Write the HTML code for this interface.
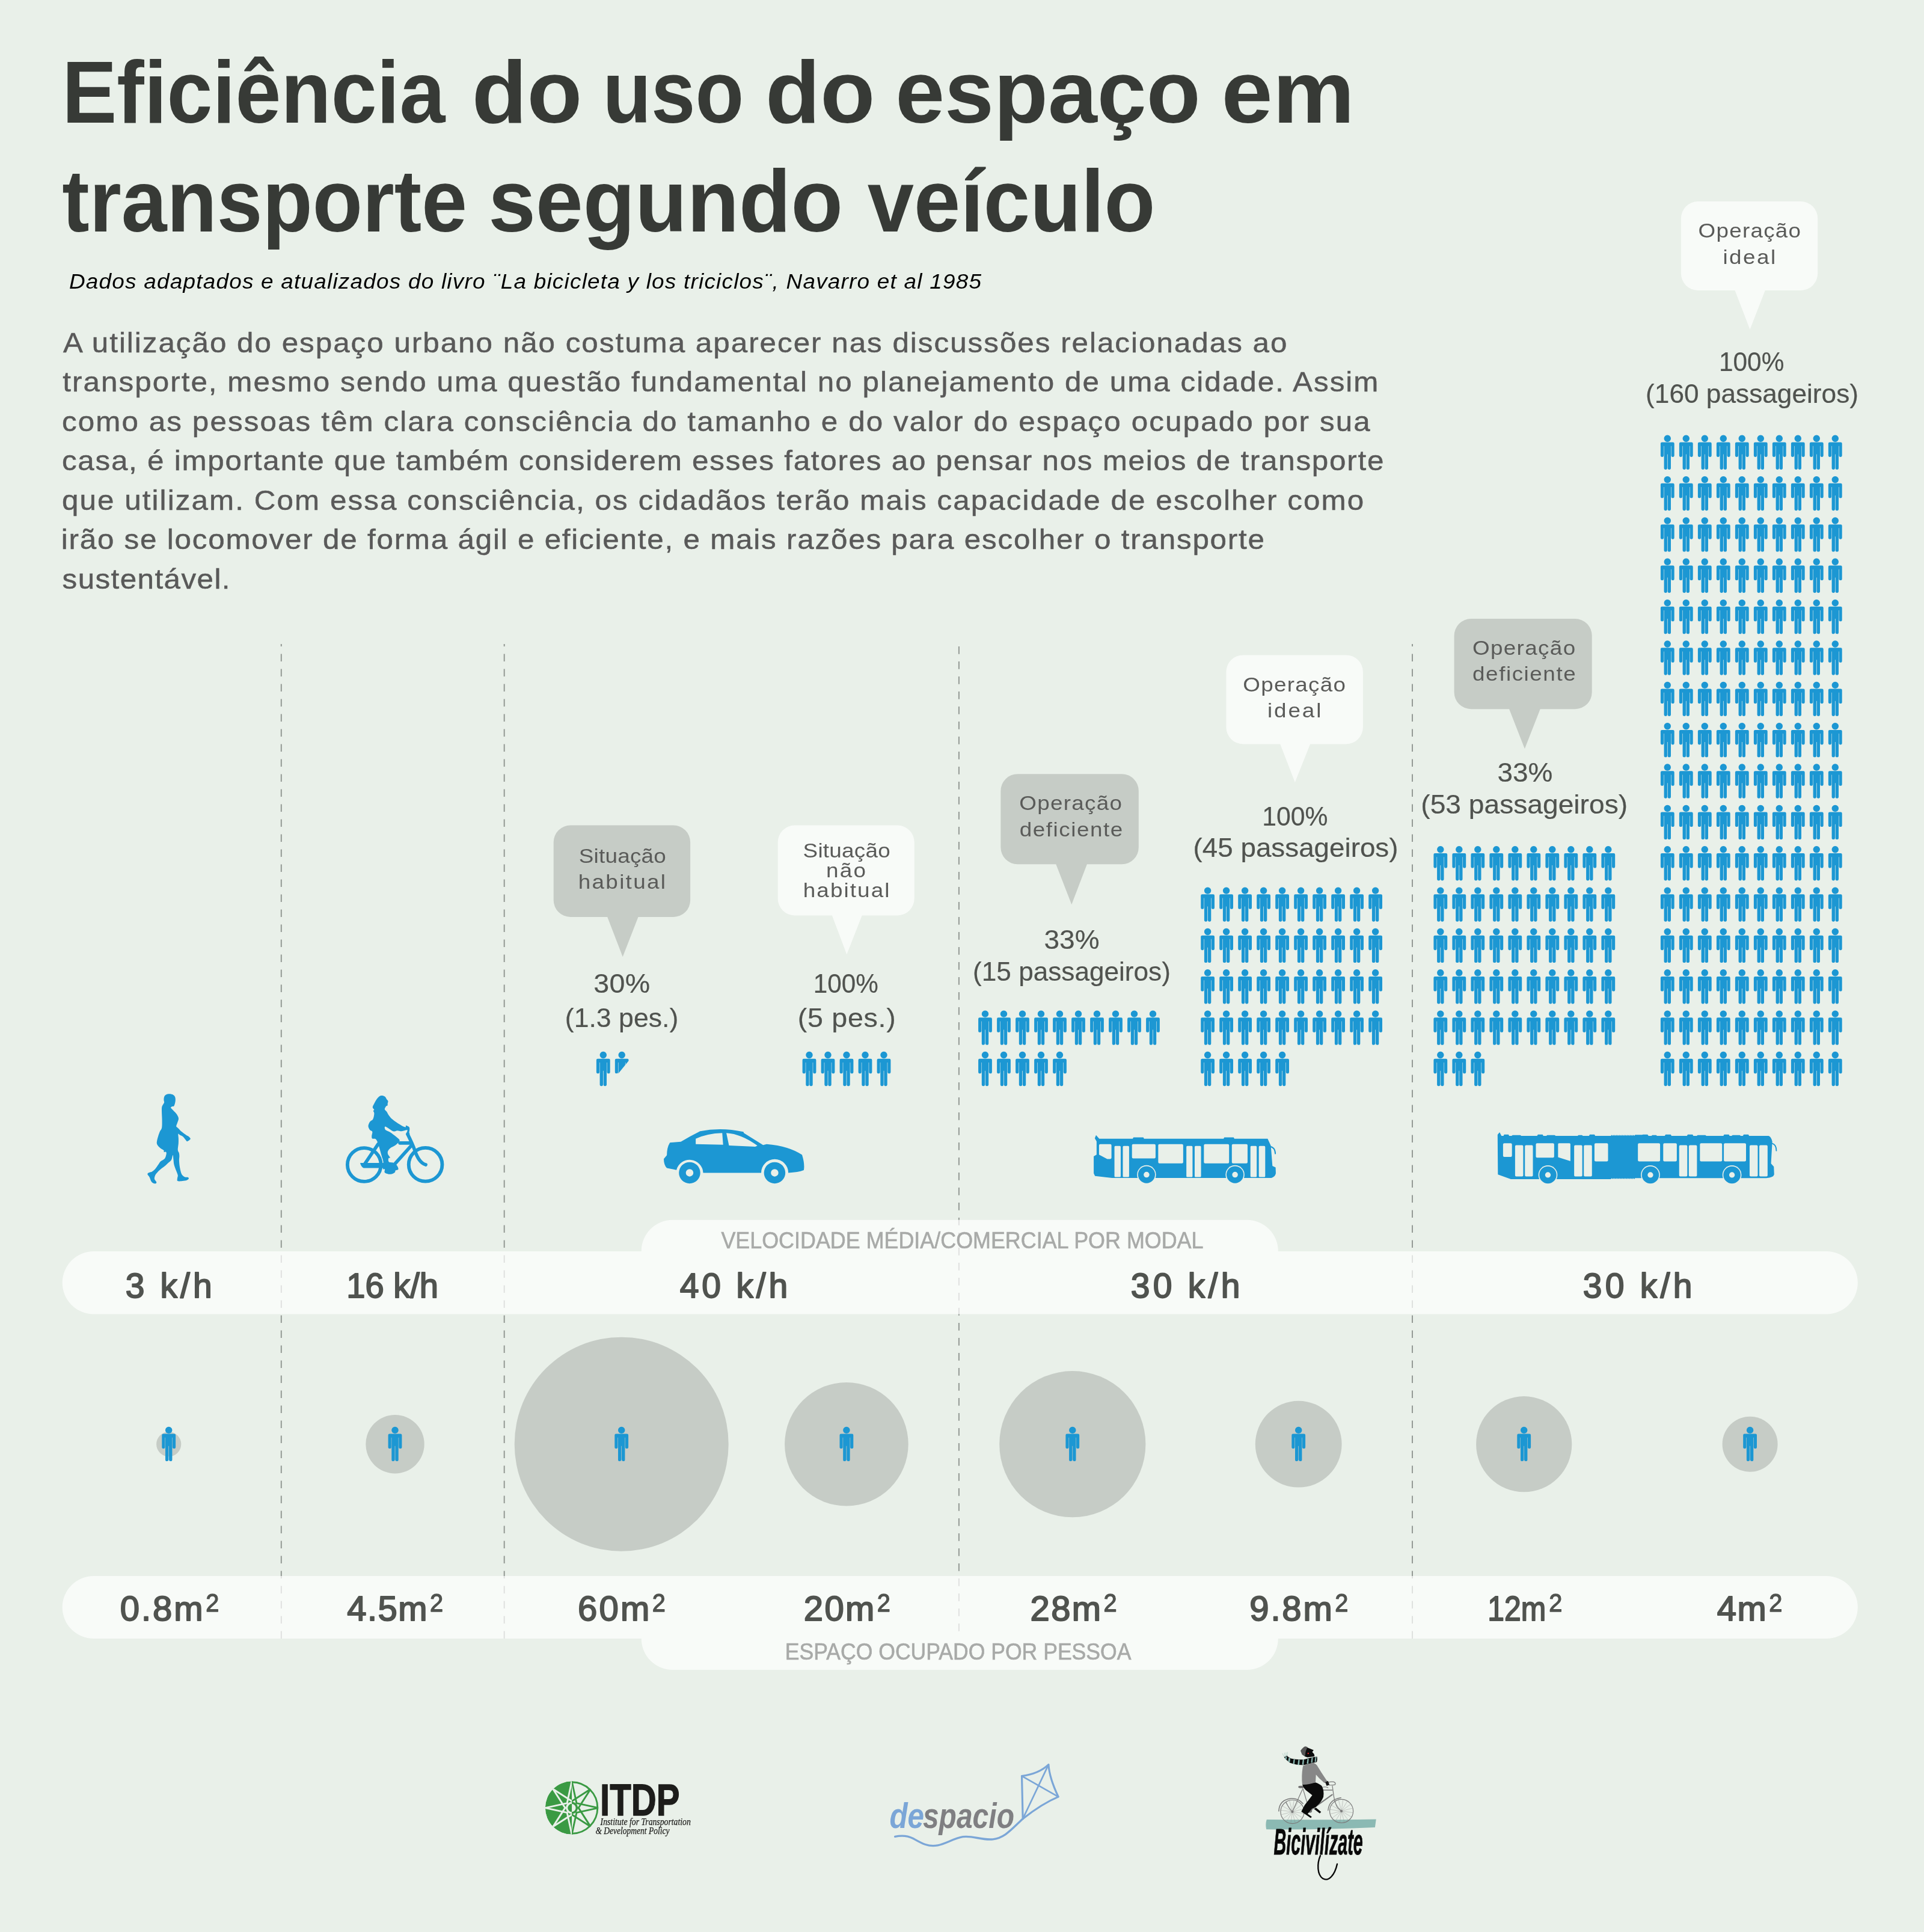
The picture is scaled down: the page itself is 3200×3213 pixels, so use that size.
<!DOCTYPE html>
<html lang="pt"><head><meta charset="utf-8"><title>Eficiência do uso do espaço em transporte segundo veículo</title>
<style>html,body{margin:0;padding:0;background:#e9f0e9;}svg{display:block;}text{white-space:pre;}</style></head>
<body><svg width="3200" height="3213" viewBox="0 0 3200 3213">
<rect width="3200" height="3213" fill="#e9f0e9"/>
<g style="opacity:.999">
<defs><path id="p" d="M0 0A5.7 5.7 0 1 1 -0.01 0ZM-9.2 11.9H9.2A2.2 2.2 0 0 1 11.4 14.100000000000001V33.824999999999996A2.575 2.575 0 0 1 6.25 33.824999999999996V18.1H5.7V54.699999999999996A2.65 2.65 0 0 1 0.35 54.65V32H-0.35V54.65A2.6 2.6 0 0 1 -5.7 54.699999999999996V18.1H-6.25V33.824999999999996A2.575 2.575 0 0 1 -11.4 33.824999999999996V14.100000000000001A2.2 2.2 0 0 1 -9.2 11.9Z" fill="#1c97d3"/><clipPath id="cut"><path d="M-13 -1H13V13.5L-6 36.6H-13Z"/></clipPath></defs>
<text y="203.9" font-family='"Liberation Sans", sans-serif' font-size="146.5" fill="#373a36" font-weight="bold"><tspan x="103.2" textLength="637.2" lengthAdjust="spacingAndGlyphs">Eficiência</tspan> <tspan x="784.8" textLength="183.6" lengthAdjust="spacingAndGlyphs">do</tspan> <tspan x="1002.4" textLength="234.7" lengthAdjust="spacingAndGlyphs">uso</tspan> <tspan x="1273.1" textLength="182.2" lengthAdjust="spacingAndGlyphs">do</tspan> <tspan x="1489.2" textLength="507.4" lengthAdjust="spacingAndGlyphs">espaço</tspan> <tspan x="2031.6" textLength="221.4" lengthAdjust="spacingAndGlyphs">em</tspan></text>
<text y="384.8" font-family='"Liberation Sans", sans-serif' font-size="146.5" fill="#373a36" font-weight="bold"><tspan x="103.3" textLength="673.7" lengthAdjust="spacingAndGlyphs">transporte</tspan> <tspan x="812.3" textLength="589.7" lengthAdjust="spacingAndGlyphs">segundo</tspan> <tspan x="1442.7" textLength="478.8" lengthAdjust="spacingAndGlyphs">veículo</tspan></text>
<text x="114.9" y="479.8" font-family='"Liberation Sans", sans-serif' font-size="35.5" fill="#000" font-style="italic" letter-spacing="1.17" textLength="1518.3" lengthAdjust="spacingAndGlyphs">Dados adaptados e atualizados do livro ¨La bicicleta y los triciclos¨, Navarro et al 1985</text>
<text x="104.9" y="585.9" font-family='"Liberation Sans", sans-serif' font-size="47" fill="#595959" letter-spacing="1.89" textLength="2037.5" lengthAdjust="spacingAndGlyphs" stroke="#595959" stroke-width="0.5">A utilização do espaço urbano não costuma aparecer nas discussões relacionadas ao</text>
<text x="104.3" y="651.4" font-family='"Liberation Sans", sans-serif' font-size="47" fill="#595959" letter-spacing="1.94" textLength="2190.2" lengthAdjust="spacingAndGlyphs" stroke="#595959" stroke-width="0.5">transporte, mesmo sendo uma questão fundamental no planejamento de uma cidade. Assim</text>
<text x="102.9" y="716.9" font-family='"Liberation Sans", sans-serif' font-size="47" fill="#595959" letter-spacing="1.99" textLength="2177.9" lengthAdjust="spacingAndGlyphs" stroke="#595959" stroke-width="0.5">como as pessoas têm clara consciência do tamanho e do valor do espaço ocupado por sua</text>
<text x="102.9" y="782.4" font-family='"Liberation Sans", sans-serif' font-size="47" fill="#595959" letter-spacing="1.67" textLength="2200.2" lengthAdjust="spacingAndGlyphs" stroke="#595959" stroke-width="0.5">casa, é importante que também considerem esses fatores ao pensar nos meios de transporte</text>
<text x="102.9" y="847.9" font-family='"Liberation Sans", sans-serif' font-size="47" fill="#595959" letter-spacing="1.98" textLength="2167.4" lengthAdjust="spacingAndGlyphs" stroke="#595959" stroke-width="0.5">que utilizam. Com essa consciência, os cidadãos terão mais capacidade de escolher como</text>
<text x="101.7" y="913.4" font-family='"Liberation Sans", sans-serif' font-size="47" fill="#595959" letter-spacing="1.70" textLength="2003.1" lengthAdjust="spacingAndGlyphs" stroke="#595959" stroke-width="0.5">irão se locomover de forma ágil e eficiente, e mais razões para escolher o transporte</text>
<text x="103.6" y="978.9" font-family='"Liberation Sans", sans-serif' font-size="47" fill="#595959" letter-spacing="1.34" textLength="280.3" lengthAdjust="spacingAndGlyphs" stroke="#595959" stroke-width="0.5">sustentável.</text>
<line x1="467.8" y1="1071" x2="467.8" y2="2725" stroke="#949a95" stroke-width="2" stroke-dasharray="12.7 12.3" stroke-dashoffset="8.6"/>
<line x1="838.7" y1="1071" x2="838.7" y2="2725" stroke="#949a95" stroke-width="2" stroke-dasharray="12.7 12.3" stroke-dashoffset="8.6"/>
<line x1="2349.0" y1="1071" x2="2349.0" y2="2725" stroke="#949a95" stroke-width="2" stroke-dasharray="12.7 12.3" stroke-dashoffset="8.6"/>
<line x1="1594.9" y1="1075.1" x2="1594.9" y2="2712.9" stroke="#949a95" stroke-width="2" stroke-dasharray="12.7 12.3"/>
<path d="M155.95 2081H1066.7V2080.7A52 52 0 0 1 1118.7 2028.7H2073.8A52 52 0 0 1 2125.8 2080.7V2081H3037.55A52.25 52.25 0 0 1 3037.55 2185.5H155.95A52.25 52.25 0 0 1 155.95 2081Z" fill="#fff" fill-opacity="0.70"/>
<path d="M155.7 2621H3037.8A52.0 52.0 0 0 1 3037.8 2725H2125.8V2725A52 52 0 0 1 2073.8 2777H1118.7A52 52 0 0 1 1066.7 2725V2725H155.7A52.0 52.0 0 0 1 155.7 2621Z" fill="#fff" fill-opacity="0.70"/>
<text x="1199.4" y="2075.5" font-family='"Liberation Sans", sans-serif' font-size="39" fill="#a8aaa8" letter-spacing="0.00" textLength="802.1" lengthAdjust="spacingAndGlyphs" stroke="#a8aaa8" stroke-width="0.7">VELOCIDADE MÉDIA/COMERCIAL POR MODAL</text>
<text x="1305.8" y="2759.6" font-family='"Liberation Sans", sans-serif' font-size="39" fill="#a8aaa8" textLength="575.6" lengthAdjust="spacingAndGlyphs" stroke="#a8aaa8" stroke-width="0.7">ESPAÇO OCUPADO POR PESSOA</text>
<text x="208.8" y="2158.0" font-family='"Liberation Sans", sans-serif' font-size="57" fill="#50534f" letter-spacing="5.07" textLength="148.9" lengthAdjust="spacingAndGlyphs" stroke="#50534f" stroke-width="2" stroke-linejoin="round">3 k/h</text>
<text x="576.2" y="2158.0" font-family='"Liberation Sans", sans-serif' font-size="57" fill="#50534f" textLength="152.9" lengthAdjust="spacingAndGlyphs" stroke="#50534f" stroke-width="2" stroke-linejoin="round">16 k/h</text>
<text x="1130.7" y="2158.0" font-family='"Liberation Sans", sans-serif' font-size="57" fill="#50534f" letter-spacing="4.85" textLength="184.4" lengthAdjust="spacingAndGlyphs" stroke="#50534f" stroke-width="2" stroke-linejoin="round">40 k/h</text>
<text x="1880.8" y="2158.0" font-family='"Liberation Sans", sans-serif' font-size="57" fill="#50534f" letter-spacing="5.26" textLength="186.8" lengthAdjust="spacingAndGlyphs" stroke="#50534f" stroke-width="2" stroke-linejoin="round">30 k/h</text>
<text x="2632.8" y="2158.0" font-family='"Liberation Sans", sans-serif' font-size="57" fill="#50534f" letter-spacing="5.26" textLength="186.8" lengthAdjust="spacingAndGlyphs" stroke="#50534f" stroke-width="2" stroke-linejoin="round">30 k/h</text>
<text x="199.7" y="2695.0" font-family='"Liberation Sans", sans-serif' font-size="58" fill="#50534f" letter-spacing="3.02" textLength="141.0" lengthAdjust="spacingAndGlyphs" stroke="#50534f" stroke-width="2" stroke-linejoin="round">0.8m</text>
<text x="342.2" y="2679.8" font-family='"Liberation Sans", sans-serif' font-size="43" fill="#50534f" textLength="22.1" lengthAdjust="spacingAndGlyphs" stroke="#50534f" stroke-width="1.4" stroke-linejoin="round">2</text>
<text x="577.2" y="2695.0" font-family='"Liberation Sans", sans-serif' font-size="58" fill="#50534f" letter-spacing="1.47" textLength="134.8" lengthAdjust="spacingAndGlyphs" stroke="#50534f" stroke-width="2" stroke-linejoin="round">4.5m</text>
<text x="715.0" y="2679.8" font-family='"Liberation Sans", sans-serif' font-size="43" fill="#50534f" textLength="22.1" lengthAdjust="spacingAndGlyphs" stroke="#50534f" stroke-width="1.4" stroke-linejoin="round">2</text>
<text x="961.1" y="2695.0" font-family='"Liberation Sans", sans-serif' font-size="58" fill="#50534f" letter-spacing="3.17" textLength="122.3" lengthAdjust="spacingAndGlyphs" stroke="#50534f" stroke-width="2" stroke-linejoin="round">60m</text>
<text x="1084.7" y="2679.8" font-family='"Liberation Sans", sans-serif' font-size="43" fill="#50534f" textLength="22.1" lengthAdjust="spacingAndGlyphs" stroke="#50534f" stroke-width="1.4" stroke-linejoin="round">2</text>
<text x="1336.8" y="2695.0" font-family='"Liberation Sans", sans-serif' font-size="58" fill="#50534f" letter-spacing="2.36" textLength="119.9" lengthAdjust="spacingAndGlyphs" stroke="#50534f" stroke-width="2" stroke-linejoin="round">20m</text>
<text x="1458.8" y="2679.8" font-family='"Liberation Sans", sans-serif' font-size="43" fill="#50534f" textLength="22.1" lengthAdjust="spacingAndGlyphs" stroke="#50534f" stroke-width="1.4" stroke-linejoin="round">2</text>
<text x="1713.5" y="2695.0" font-family='"Liberation Sans", sans-serif' font-size="58" fill="#50534f" letter-spacing="2.41" textLength="120.0" lengthAdjust="spacingAndGlyphs" stroke="#50534f" stroke-width="2" stroke-linejoin="round">28m</text>
<text x="1835.6" y="2679.8" font-family='"Liberation Sans", sans-serif' font-size="43" fill="#50534f" textLength="22.1" lengthAdjust="spacingAndGlyphs" stroke="#50534f" stroke-width="1.4" stroke-linejoin="round">2</text>
<text x="2078.3" y="2695.0" font-family='"Liberation Sans", sans-serif' font-size="58" fill="#50534f" letter-spacing="2.83" textLength="140.3" lengthAdjust="spacingAndGlyphs" stroke="#50534f" stroke-width="2" stroke-linejoin="round">9.8m</text>
<text x="2220.2" y="2679.8" font-family='"Liberation Sans", sans-serif' font-size="43" fill="#50534f" textLength="22.1" lengthAdjust="spacingAndGlyphs" stroke="#50534f" stroke-width="1.4" stroke-linejoin="round">2</text>
<text x="2474.2" y="2695.0" font-family='"Liberation Sans", sans-serif' font-size="58" fill="#50534f" textLength="97.0" lengthAdjust="spacingAndGlyphs" stroke="#50534f" stroke-width="2" stroke-linejoin="round">12m</text>
<text x="2576.2" y="2679.8" font-family='"Liberation Sans", sans-serif' font-size="43" fill="#50534f" textLength="22.1" lengthAdjust="spacingAndGlyphs" stroke="#50534f" stroke-width="1.4" stroke-linejoin="round">2</text>
<text x="2855.7" y="2695.0" font-family='"Liberation Sans", sans-serif' font-size="58" fill="#50534f" letter-spacing="1.48" textLength="83.5" lengthAdjust="spacingAndGlyphs" stroke="#50534f" stroke-width="2" stroke-linejoin="round">4m</text>
<text x="2942.2" y="2679.8" font-family='"Liberation Sans", sans-serif' font-size="43" fill="#50534f" textLength="22.1" lengthAdjust="spacingAndGlyphs" stroke="#50534f" stroke-width="1.4" stroke-linejoin="round">2</text>
<circle cx="280.7" cy="2401.7" r="20.6" fill="#c6ccc6"/>
<use href="#p" x="280.7" y="2372.7"/>
<circle cx="657" cy="2401.7" r="48.7" fill="#c6ccc6"/>
<use href="#p" x="657" y="2372.7"/>
<circle cx="1033.7" cy="2401.7" r="178.0" fill="#c6ccc6"/>
<use href="#p" x="1033.7" y="2372.7"/>
<circle cx="1407.9" cy="2401.7" r="102.8" fill="#c6ccc6"/>
<use href="#p" x="1407.9" y="2372.7"/>
<circle cx="1783.8" cy="2401.7" r="121.6" fill="#c6ccc6"/>
<use href="#p" x="1783.8" y="2372.7"/>
<circle cx="2159.7" cy="2401.7" r="71.9" fill="#c6ccc6"/>
<use href="#p" x="2159.7" y="2372.7"/>
<circle cx="2534.7" cy="2401.7" r="79.6" fill="#c6ccc6"/>
<use href="#p" x="2534.7" y="2372.7"/>
<circle cx="2910.6" cy="2401.7" r="46.0" fill="#c6ccc6"/>
<use href="#p" x="2910.6" y="2372.7"/>
<path d="M948.7 1372.6H1120.1A28 28 0 0 1 1148.1 1400.6V1497A28 28 0 0 1 1120.1 1525H1061.5L1035.7 1591.2L1010.2 1525H948.7A28 28 0 0 1 920.7 1497V1400.6A28 28 0 0 1 948.7 1372.6Z" fill="#c6ccc6"/>
<text x="962.7" y="1434.8" font-family='"Liberation Sans", sans-serif' font-size="33.5" fill="#5a5b59" letter-spacing="0.22" textLength="145.4" lengthAdjust="spacingAndGlyphs">Situação</text>
<text x="961.8" y="1478.4" font-family='"Liberation Sans", sans-serif' font-size="33.5" fill="#5a5b59" letter-spacing="2.08" textLength="147.4" lengthAdjust="spacingAndGlyphs">habitual</text>
<path d="M1321.7 1372.6H1492.7A28 28 0 0 1 1520.7 1400.6V1494.4A28 28 0 0 1 1492.7 1522.4H1433.7L1408.3 1587.2L1383.9 1522.4H1321.7A28 28 0 0 1 1293.7 1494.4V1400.6A28 28 0 0 1 1321.7 1372.6Z" fill="#fff" fill-opacity="0.7"/>
<text x="1335.6" y="1426.4" font-family='"Liberation Sans", sans-serif' font-size="33.5" fill="#5a5b59" letter-spacing="0.22" textLength="145.4" lengthAdjust="spacingAndGlyphs">Situação</text>
<text x="1373.9" y="1459.1" font-family='"Liberation Sans", sans-serif' font-size="33.5" fill="#5a5b59" letter-spacing="2.14" textLength="68.6" lengthAdjust="spacingAndGlyphs">não</text>
<text x="1335.8" y="1491.9" font-family='"Liberation Sans", sans-serif' font-size="33.5" fill="#5a5b59" letter-spacing="1.89" textLength="145.7" lengthAdjust="spacingAndGlyphs">habitual</text>
<path d="M1692.4 1287.2H1865.8A28 28 0 0 1 1893.8 1315.2V1409.3A28 28 0 0 1 1865.8 1437.3H1807.9L1782.3 1504.3L1756.3 1437.3H1692.4A28 28 0 0 1 1664.4 1409.3V1315.2A28 28 0 0 1 1692.4 1287.2Z" fill="#c6ccc6"/>
<text x="1695.2" y="1346.7" font-family='"Liberation Sans", sans-serif' font-size="33.5" fill="#5a5b59" letter-spacing="1.16" textLength="172.1" lengthAdjust="spacingAndGlyphs">Operação</text>
<text x="1695.8" y="1391.0" font-family='"Liberation Sans", sans-serif' font-size="33.5" fill="#5a5b59" letter-spacing="1.38" textLength="172.9" lengthAdjust="spacingAndGlyphs">deficiente</text>
<path d="M2067.4 1089.4H2238.9A28 28 0 0 1 2266.9 1117.4V1209.4A28 28 0 0 1 2238.9 1237.4H2179.1L2153.8 1301L2129.2 1237.4H2067.4A28 28 0 0 1 2039.4 1209.4V1117.4A28 28 0 0 1 2067.4 1089.4Z" fill="#fff" fill-opacity="0.7"/>
<text x="2067.2" y="1149.7" font-family='"Liberation Sans", sans-serif' font-size="33.5" fill="#5a5b59" letter-spacing="1.18" textLength="172.2" lengthAdjust="spacingAndGlyphs">Operação</text>
<text x="2108.0" y="1193.3" font-family='"Liberation Sans", sans-serif' font-size="33.5" fill="#5a5b59" letter-spacing="2.61" textLength="92.2" lengthAdjust="spacingAndGlyphs">ideal</text>
<path d="M2446.6 1029.1H2619.7A28 28 0 0 1 2647.7 1057.1V1151.2A28 28 0 0 1 2619.7 1179.2H2561.7L2535.9 1245.3L2510.1 1179.2H2446.6A28 28 0 0 1 2418.6 1151.2V1057.1A28 28 0 0 1 2446.6 1029.1Z" fill="#c6ccc6"/>
<text x="2448.9" y="1088.6" font-family='"Liberation Sans", sans-serif' font-size="33.5" fill="#5a5b59" letter-spacing="1.23" textLength="172.6" lengthAdjust="spacingAndGlyphs">Operação</text>
<text x="2449.1" y="1132.2" font-family='"Liberation Sans", sans-serif' font-size="33.5" fill="#5a5b59" letter-spacing="1.40" textLength="173.1" lengthAdjust="spacingAndGlyphs">deficiente</text>
<path d="M2823.9 335.1H2995.2A28 28 0 0 1 3023.2 363.1V454.9A28 28 0 0 1 2995.2 482.9H2935.8L2910.5 547.9L2885.5 482.9H2823.9A28 28 0 0 1 2795.9 454.9V363.1A28 28 0 0 1 2823.9 335.1Z" fill="#fff" fill-opacity="0.7"/>
<text x="2824.6" y="394.7" font-family='"Liberation Sans", sans-serif' font-size="33.5" fill="#5a5b59" letter-spacing="1.12" textLength="171.7" lengthAdjust="spacingAndGlyphs">Operação</text>
<text x="2865.4" y="438.9" font-family='"Liberation Sans", sans-serif' font-size="33.5" fill="#5a5b59" letter-spacing="2.24" textLength="90.2" lengthAdjust="spacingAndGlyphs">ideal</text>
<text x="987.3" y="1650.5" font-family='"Liberation Sans", sans-serif' font-size="44" fill="#50534f" letter-spacing="0.33" textLength="94.4" lengthAdjust="spacingAndGlyphs" stroke="#50534f" stroke-width="0.2">30%</text>
<text x="939.8" y="1707.6" font-family='"Liberation Sans", sans-serif' font-size="44" fill="#50534f" textLength="188.5" lengthAdjust="spacingAndGlyphs" stroke="#50534f" stroke-width="0.2">(1.3 pes.)</text>
<text x="1352.7" y="1650.5" font-family='"Liberation Sans", sans-serif' font-size="44" fill="#50534f" textLength="108.0" lengthAdjust="spacingAndGlyphs" stroke="#50534f" stroke-width="0.2">100%</text>
<text x="1326.8" y="1707.6" font-family='"Liberation Sans", sans-serif' font-size="44" fill="#50534f" letter-spacing="0.66" textLength="163.7" lengthAdjust="spacingAndGlyphs" stroke="#50534f" stroke-width="0.2">(5 pes.)</text>
<text x="1736.5" y="1578.1" font-family='"Liberation Sans", sans-serif' font-size="44" fill="#50534f" textLength="92.1" lengthAdjust="spacingAndGlyphs" stroke="#50534f" stroke-width="0.2">33%</text>
<text x="1618.1" y="1631.1" font-family='"Liberation Sans", sans-serif' font-size="44" fill="#50534f" textLength="328.8" lengthAdjust="spacingAndGlyphs" stroke="#50534f" stroke-width="0.2">(15 passageiros)</text>
<text x="2099.3" y="1372.6" font-family='"Liberation Sans", sans-serif' font-size="44" fill="#50534f" textLength="109.2" lengthAdjust="spacingAndGlyphs" stroke="#50534f" stroke-width="0.2">100%</text>
<text x="1984.6" y="1425.0" font-family='"Liberation Sans", sans-serif' font-size="44" fill="#50534f" textLength="340.9" lengthAdjust="spacingAndGlyphs" stroke="#50534f" stroke-width="0.2">(45 passageiros)</text>
<text x="2490.4" y="1300.2" font-family='"Liberation Sans", sans-serif' font-size="44" fill="#50534f" textLength="92.0" lengthAdjust="spacingAndGlyphs" stroke="#50534f" stroke-width="0.2">33%</text>
<text x="2363.3" y="1352.6" font-family='"Liberation Sans", sans-serif' font-size="44" fill="#50534f" textLength="343.8" lengthAdjust="spacingAndGlyphs" stroke="#50534f" stroke-width="0.2">(53 passageiros)</text>
<text x="2858.9" y="617.4" font-family='"Liberation Sans", sans-serif' font-size="44" fill="#50534f" textLength="108.5" lengthAdjust="spacingAndGlyphs" stroke="#50534f" stroke-width="0.2">100%</text>
<text x="2737.1" y="670.2" font-family='"Liberation Sans", sans-serif' font-size="44" fill="#50534f" textLength="353.9" lengthAdjust="spacingAndGlyphs" stroke="#50534f" stroke-width="0.2">(160 passageiros)</text>
<use href="#p" x="1003.3" y="1748.8"/>
<g transform="translate(1034.2 1748.8)" clip-path="url(#cut)"><use href="#p" x="0" y="0"/></g>
<use href="#p" x="1346.0" y="1748.80"/><use href="#p" x="1377.0" y="1748.80"/><use href="#p" x="1408.0" y="1748.80"/><use href="#p" x="1439.0" y="1748.80"/><use href="#p" x="1470.0" y="1748.80"/>
<use href="#p" x="1638.5" y="1680.45"/><use href="#p" x="1669.5" y="1680.45"/><use href="#p" x="1700.5" y="1680.45"/><use href="#p" x="1731.5" y="1680.45"/><use href="#p" x="1762.5" y="1680.45"/><use href="#p" x="1793.5" y="1680.45"/><use href="#p" x="1824.5" y="1680.45"/><use href="#p" x="1855.5" y="1680.45"/><use href="#p" x="1886.5" y="1680.45"/><use href="#p" x="1917.5" y="1680.45"/><use href="#p" x="1638.5" y="1748.80"/><use href="#p" x="1669.5" y="1748.80"/><use href="#p" x="1700.5" y="1748.80"/><use href="#p" x="1731.5" y="1748.80"/><use href="#p" x="1762.5" y="1748.80"/>
<use href="#p" x="2008.6" y="1475.40"/><use href="#p" x="2039.6" y="1475.40"/><use href="#p" x="2070.6" y="1475.40"/><use href="#p" x="2101.6" y="1475.40"/><use href="#p" x="2132.6" y="1475.40"/><use href="#p" x="2163.6" y="1475.40"/><use href="#p" x="2194.6" y="1475.40"/><use href="#p" x="2225.6" y="1475.40"/><use href="#p" x="2256.6" y="1475.40"/><use href="#p" x="2287.6" y="1475.40"/><use href="#p" x="2008.6" y="1543.75"/><use href="#p" x="2039.6" y="1543.75"/><use href="#p" x="2070.6" y="1543.75"/><use href="#p" x="2101.6" y="1543.75"/><use href="#p" x="2132.6" y="1543.75"/><use href="#p" x="2163.6" y="1543.75"/><use href="#p" x="2194.6" y="1543.75"/><use href="#p" x="2225.6" y="1543.75"/><use href="#p" x="2256.6" y="1543.75"/><use href="#p" x="2287.6" y="1543.75"/><use href="#p" x="2008.6" y="1612.10"/><use href="#p" x="2039.6" y="1612.10"/><use href="#p" x="2070.6" y="1612.10"/><use href="#p" x="2101.6" y="1612.10"/><use href="#p" x="2132.6" y="1612.10"/><use href="#p" x="2163.6" y="1612.10"/><use href="#p" x="2194.6" y="1612.10"/><use href="#p" x="2225.6" y="1612.10"/><use href="#p" x="2256.6" y="1612.10"/><use href="#p" x="2287.6" y="1612.10"/><use href="#p" x="2008.6" y="1680.45"/><use href="#p" x="2039.6" y="1680.45"/><use href="#p" x="2070.6" y="1680.45"/><use href="#p" x="2101.6" y="1680.45"/><use href="#p" x="2132.6" y="1680.45"/><use href="#p" x="2163.6" y="1680.45"/><use href="#p" x="2194.6" y="1680.45"/><use href="#p" x="2225.6" y="1680.45"/><use href="#p" x="2256.6" y="1680.45"/><use href="#p" x="2287.6" y="1680.45"/><use href="#p" x="2008.6" y="1748.80"/><use href="#p" x="2039.6" y="1748.80"/><use href="#p" x="2070.6" y="1748.80"/><use href="#p" x="2101.6" y="1748.80"/><use href="#p" x="2132.6" y="1748.80"/>
<use href="#p" x="2395.8" y="1407.05"/><use href="#p" x="2426.8" y="1407.05"/><use href="#p" x="2457.8" y="1407.05"/><use href="#p" x="2488.8" y="1407.05"/><use href="#p" x="2519.8" y="1407.05"/><use href="#p" x="2550.8" y="1407.05"/><use href="#p" x="2581.8" y="1407.05"/><use href="#p" x="2612.8" y="1407.05"/><use href="#p" x="2643.8" y="1407.05"/><use href="#p" x="2674.8" y="1407.05"/><use href="#p" x="2395.8" y="1475.40"/><use href="#p" x="2426.8" y="1475.40"/><use href="#p" x="2457.8" y="1475.40"/><use href="#p" x="2488.8" y="1475.40"/><use href="#p" x="2519.8" y="1475.40"/><use href="#p" x="2550.8" y="1475.40"/><use href="#p" x="2581.8" y="1475.40"/><use href="#p" x="2612.8" y="1475.40"/><use href="#p" x="2643.8" y="1475.40"/><use href="#p" x="2674.8" y="1475.40"/><use href="#p" x="2395.8" y="1543.75"/><use href="#p" x="2426.8" y="1543.75"/><use href="#p" x="2457.8" y="1543.75"/><use href="#p" x="2488.8" y="1543.75"/><use href="#p" x="2519.8" y="1543.75"/><use href="#p" x="2550.8" y="1543.75"/><use href="#p" x="2581.8" y="1543.75"/><use href="#p" x="2612.8" y="1543.75"/><use href="#p" x="2643.8" y="1543.75"/><use href="#p" x="2674.8" y="1543.75"/><use href="#p" x="2395.8" y="1612.10"/><use href="#p" x="2426.8" y="1612.10"/><use href="#p" x="2457.8" y="1612.10"/><use href="#p" x="2488.8" y="1612.10"/><use href="#p" x="2519.8" y="1612.10"/><use href="#p" x="2550.8" y="1612.10"/><use href="#p" x="2581.8" y="1612.10"/><use href="#p" x="2612.8" y="1612.10"/><use href="#p" x="2643.8" y="1612.10"/><use href="#p" x="2674.8" y="1612.10"/><use href="#p" x="2395.8" y="1680.45"/><use href="#p" x="2426.8" y="1680.45"/><use href="#p" x="2457.8" y="1680.45"/><use href="#p" x="2488.8" y="1680.45"/><use href="#p" x="2519.8" y="1680.45"/><use href="#p" x="2550.8" y="1680.45"/><use href="#p" x="2581.8" y="1680.45"/><use href="#p" x="2612.8" y="1680.45"/><use href="#p" x="2643.8" y="1680.45"/><use href="#p" x="2674.8" y="1680.45"/><use href="#p" x="2395.8" y="1748.80"/><use href="#p" x="2426.8" y="1748.80"/><use href="#p" x="2457.8" y="1748.80"/>
<use href="#p" x="2773.3" y="723.55"/><use href="#p" x="2804.3" y="723.55"/><use href="#p" x="2835.3" y="723.55"/><use href="#p" x="2866.3" y="723.55"/><use href="#p" x="2897.3" y="723.55"/><use href="#p" x="2928.3" y="723.55"/><use href="#p" x="2959.3" y="723.55"/><use href="#p" x="2990.3" y="723.55"/><use href="#p" x="3021.3" y="723.55"/><use href="#p" x="3052.3" y="723.55"/><use href="#p" x="2773.3" y="791.90"/><use href="#p" x="2804.3" y="791.90"/><use href="#p" x="2835.3" y="791.90"/><use href="#p" x="2866.3" y="791.90"/><use href="#p" x="2897.3" y="791.90"/><use href="#p" x="2928.3" y="791.90"/><use href="#p" x="2959.3" y="791.90"/><use href="#p" x="2990.3" y="791.90"/><use href="#p" x="3021.3" y="791.90"/><use href="#p" x="3052.3" y="791.90"/><use href="#p" x="2773.3" y="860.25"/><use href="#p" x="2804.3" y="860.25"/><use href="#p" x="2835.3" y="860.25"/><use href="#p" x="2866.3" y="860.25"/><use href="#p" x="2897.3" y="860.25"/><use href="#p" x="2928.3" y="860.25"/><use href="#p" x="2959.3" y="860.25"/><use href="#p" x="2990.3" y="860.25"/><use href="#p" x="3021.3" y="860.25"/><use href="#p" x="3052.3" y="860.25"/><use href="#p" x="2773.3" y="928.60"/><use href="#p" x="2804.3" y="928.60"/><use href="#p" x="2835.3" y="928.60"/><use href="#p" x="2866.3" y="928.60"/><use href="#p" x="2897.3" y="928.60"/><use href="#p" x="2928.3" y="928.60"/><use href="#p" x="2959.3" y="928.60"/><use href="#p" x="2990.3" y="928.60"/><use href="#p" x="3021.3" y="928.60"/><use href="#p" x="3052.3" y="928.60"/><use href="#p" x="2773.3" y="996.95"/><use href="#p" x="2804.3" y="996.95"/><use href="#p" x="2835.3" y="996.95"/><use href="#p" x="2866.3" y="996.95"/><use href="#p" x="2897.3" y="996.95"/><use href="#p" x="2928.3" y="996.95"/><use href="#p" x="2959.3" y="996.95"/><use href="#p" x="2990.3" y="996.95"/><use href="#p" x="3021.3" y="996.95"/><use href="#p" x="3052.3" y="996.95"/><use href="#p" x="2773.3" y="1065.30"/><use href="#p" x="2804.3" y="1065.30"/><use href="#p" x="2835.3" y="1065.30"/><use href="#p" x="2866.3" y="1065.30"/><use href="#p" x="2897.3" y="1065.30"/><use href="#p" x="2928.3" y="1065.30"/><use href="#p" x="2959.3" y="1065.30"/><use href="#p" x="2990.3" y="1065.30"/><use href="#p" x="3021.3" y="1065.30"/><use href="#p" x="3052.3" y="1065.30"/><use href="#p" x="2773.3" y="1133.65"/><use href="#p" x="2804.3" y="1133.65"/><use href="#p" x="2835.3" y="1133.65"/><use href="#p" x="2866.3" y="1133.65"/><use href="#p" x="2897.3" y="1133.65"/><use href="#p" x="2928.3" y="1133.65"/><use href="#p" x="2959.3" y="1133.65"/><use href="#p" x="2990.3" y="1133.65"/><use href="#p" x="3021.3" y="1133.65"/><use href="#p" x="3052.3" y="1133.65"/><use href="#p" x="2773.3" y="1202.00"/><use href="#p" x="2804.3" y="1202.00"/><use href="#p" x="2835.3" y="1202.00"/><use href="#p" x="2866.3" y="1202.00"/><use href="#p" x="2897.3" y="1202.00"/><use href="#p" x="2928.3" y="1202.00"/><use href="#p" x="2959.3" y="1202.00"/><use href="#p" x="2990.3" y="1202.00"/><use href="#p" x="3021.3" y="1202.00"/><use href="#p" x="3052.3" y="1202.00"/><use href="#p" x="2773.3" y="1270.35"/><use href="#p" x="2804.3" y="1270.35"/><use href="#p" x="2835.3" y="1270.35"/><use href="#p" x="2866.3" y="1270.35"/><use href="#p" x="2897.3" y="1270.35"/><use href="#p" x="2928.3" y="1270.35"/><use href="#p" x="2959.3" y="1270.35"/><use href="#p" x="2990.3" y="1270.35"/><use href="#p" x="3021.3" y="1270.35"/><use href="#p" x="3052.3" y="1270.35"/><use href="#p" x="2773.3" y="1338.70"/><use href="#p" x="2804.3" y="1338.70"/><use href="#p" x="2835.3" y="1338.70"/><use href="#p" x="2866.3" y="1338.70"/><use href="#p" x="2897.3" y="1338.70"/><use href="#p" x="2928.3" y="1338.70"/><use href="#p" x="2959.3" y="1338.70"/><use href="#p" x="2990.3" y="1338.70"/><use href="#p" x="3021.3" y="1338.70"/><use href="#p" x="3052.3" y="1338.70"/><use href="#p" x="2773.3" y="1407.05"/><use href="#p" x="2804.3" y="1407.05"/><use href="#p" x="2835.3" y="1407.05"/><use href="#p" x="2866.3" y="1407.05"/><use href="#p" x="2897.3" y="1407.05"/><use href="#p" x="2928.3" y="1407.05"/><use href="#p" x="2959.3" y="1407.05"/><use href="#p" x="2990.3" y="1407.05"/><use href="#p" x="3021.3" y="1407.05"/><use href="#p" x="3052.3" y="1407.05"/><use href="#p" x="2773.3" y="1475.40"/><use href="#p" x="2804.3" y="1475.40"/><use href="#p" x="2835.3" y="1475.40"/><use href="#p" x="2866.3" y="1475.40"/><use href="#p" x="2897.3" y="1475.40"/><use href="#p" x="2928.3" y="1475.40"/><use href="#p" x="2959.3" y="1475.40"/><use href="#p" x="2990.3" y="1475.40"/><use href="#p" x="3021.3" y="1475.40"/><use href="#p" x="3052.3" y="1475.40"/><use href="#p" x="2773.3" y="1543.75"/><use href="#p" x="2804.3" y="1543.75"/><use href="#p" x="2835.3" y="1543.75"/><use href="#p" x="2866.3" y="1543.75"/><use href="#p" x="2897.3" y="1543.75"/><use href="#p" x="2928.3" y="1543.75"/><use href="#p" x="2959.3" y="1543.75"/><use href="#p" x="2990.3" y="1543.75"/><use href="#p" x="3021.3" y="1543.75"/><use href="#p" x="3052.3" y="1543.75"/><use href="#p" x="2773.3" y="1612.10"/><use href="#p" x="2804.3" y="1612.10"/><use href="#p" x="2835.3" y="1612.10"/><use href="#p" x="2866.3" y="1612.10"/><use href="#p" x="2897.3" y="1612.10"/><use href="#p" x="2928.3" y="1612.10"/><use href="#p" x="2959.3" y="1612.10"/><use href="#p" x="2990.3" y="1612.10"/><use href="#p" x="3021.3" y="1612.10"/><use href="#p" x="3052.3" y="1612.10"/><use href="#p" x="2773.3" y="1680.45"/><use href="#p" x="2804.3" y="1680.45"/><use href="#p" x="2835.3" y="1680.45"/><use href="#p" x="2866.3" y="1680.45"/><use href="#p" x="2897.3" y="1680.45"/><use href="#p" x="2928.3" y="1680.45"/><use href="#p" x="2959.3" y="1680.45"/><use href="#p" x="2990.3" y="1680.45"/><use href="#p" x="3021.3" y="1680.45"/><use href="#p" x="3052.3" y="1680.45"/><use href="#p" x="2773.3" y="1748.80"/><use href="#p" x="2804.3" y="1748.80"/><use href="#p" x="2835.3" y="1748.80"/><use href="#p" x="2866.3" y="1748.80"/><use href="#p" x="2897.3" y="1748.80"/><use href="#p" x="2928.3" y="1748.80"/><use href="#p" x="2959.3" y="1748.80"/><use href="#p" x="2990.3" y="1748.80"/><use href="#p" x="3021.3" y="1748.80"/><use href="#p" x="3052.3" y="1748.80"/>
<g transform="translate(200 1790) scale(0.10352)" fill="#1c97d3"><path d="M735.0 295.0C749.0 287.2 770.8 282.7 790.0 283.0C809.2 283.3 835.0 288.8 850.0 297.0C865.0 305.2 873.8 318.2 880.0 332.0C886.2 345.8 887.0 363.7 887.0 380.0C887.0 396.3 884.2 413.7 880.0 430.0C875.8 446.3 870.0 468.8 862.0 478.0C854.0 487.2 840.3 480.5 832.0 485.0C823.7 489.5 809.0 495.0 812.0 505.0C815.0 515.0 835.3 529.2 850.0 545.0C864.7 560.8 886.7 582.5 900.0 600.0C913.3 617.5 924.0 635.0 930.0 650.0C936.0 665.0 938.3 673.3 936.0 690.0C933.7 706.7 922.0 730.8 916.0 750.0C910.0 769.2 897.7 791.3 900.0 805.0C902.3 818.7 915.0 817.5 930.0 832.0C945.0 846.5 968.3 873.2 990.0 892.0C1011.7 910.8 1042.0 932.8 1060.0 945.0C1078.0 957.2 1086.7 955.8 1098.0 965.0C1109.3 974.2 1126.0 990.0 1128.0 1000.0C1130.0 1010.0 1118.8 1017.5 1110.0 1025.0C1101.2 1032.5 1084.7 1045.5 1075.0 1045.0C1065.3 1044.5 1062.8 1034.5 1052.0 1022.0C1041.2 1009.5 1025.0 982.8 1010.0 970.0C995.0 957.2 975.0 952.5 962.0 945.0C949.0 937.5 936.3 915.8 932.0 925.0C927.7 934.2 935.5 974.2 936.0 1000.0C936.5 1025.8 936.8 1050.0 935.0 1080.0C933.2 1110.0 923.5 1155.0 925.0 1180.0C926.5 1205.0 939.8 1213.3 944.0 1230.0C948.2 1246.7 949.7 1260.0 950.0 1280.0C950.3 1300.0 945.2 1321.7 946.0 1350.0C946.8 1378.3 950.2 1418.3 955.0 1450.0C959.8 1481.7 967.5 1516.7 975.0 1540.0C982.5 1563.3 989.2 1577.0 1000.0 1590.0C1010.8 1603.0 1025.3 1612.7 1040.0 1618.0C1054.7 1623.3 1078.0 1617.5 1088.0 1622.0C1098.0 1626.5 1103.0 1637.3 1100.0 1645.0C1097.0 1652.7 1086.7 1662.2 1070.0 1668.0C1053.3 1673.8 1024.7 1677.7 1000.0 1680.0C975.3 1682.3 935.8 1688.7 922.0 1682.0C908.2 1675.3 916.5 1655.3 917.0 1640.0C917.5 1624.7 927.8 1610.0 925.0 1590.0C922.2 1570.0 910.0 1548.3 900.0 1520.0C890.0 1491.7 872.5 1450.0 865.0 1420.0C857.5 1390.0 858.3 1365.8 855.0 1340.0C851.7 1314.2 850.8 1264.2 845.0 1265.0C839.2 1265.8 834.2 1322.5 820.0 1345.0C805.8 1367.5 780.0 1381.7 760.0 1400.0C740.0 1418.3 720.0 1438.3 700.0 1455.0C680.0 1471.7 658.3 1484.2 640.0 1500.0C621.7 1515.8 603.0 1535.0 590.0 1550.0C577.0 1565.0 568.7 1573.3 562.0 1590.0C555.3 1606.7 547.0 1632.5 550.0 1650.0C553.0 1667.5 575.8 1683.3 580.0 1695.0C584.2 1706.7 581.7 1715.8 575.0 1720.0C568.3 1724.2 552.5 1725.0 540.0 1720.0C527.5 1715.0 511.7 1706.7 500.0 1690.0C488.3 1673.3 480.0 1638.3 470.0 1620.0C460.0 1601.7 444.2 1590.8 440.0 1580.0C435.8 1569.2 438.3 1561.7 445.0 1555.0C451.7 1548.3 469.2 1544.2 480.0 1540.0C490.8 1535.8 496.7 1538.3 510.0 1530.0C523.3 1521.7 543.3 1508.3 560.0 1490.0C576.7 1471.7 595.0 1440.8 610.0 1420.0C625.0 1399.2 632.5 1381.7 650.0 1365.0C667.5 1348.3 700.0 1339.2 715.0 1320.0C730.0 1300.8 736.7 1267.5 740.0 1250.0C743.3 1232.5 741.7 1220.8 735.0 1215.0C728.3 1209.2 705.8 1219.2 700.0 1215.0C694.2 1210.8 710.0 1200.8 700.0 1190.0C690.0 1179.2 657.5 1165.0 640.0 1150.0C622.5 1135.0 603.7 1116.7 595.0 1100.0C586.3 1083.3 585.5 1073.3 588.0 1050.0C590.5 1026.7 601.3 988.3 610.0 960.0C618.7 931.7 630.3 902.5 640.0 880.0C649.7 857.5 662.7 855.0 668.0 825.0C673.3 795.0 672.0 737.5 672.0 700.0C672.0 662.5 668.7 633.3 668.0 600.0C667.3 566.7 664.7 524.7 668.0 500.0C671.3 475.3 681.7 465.3 688.0 452.0C694.3 438.7 704.0 432.0 706.0 420.0C708.0 408.0 700.0 395.0 700.0 380.0C700.0 365.0 700.2 344.2 706.0 330.0C711.8 315.8 721.0 302.8 735.0 295.0Z"/></g>
<g transform="translate(560 1800) scale(0.10395)" fill="#1c97d3"><circle cx="440" cy="1318" r="268" fill="none" stroke="#1c97d3" stroke-width="56"/><circle cx="1420" cy="1316" r="268" fill="none" stroke="#1c97d3" stroke-width="56"/><g fill="none" stroke="#1c97d3" stroke-width="54" stroke-linecap="round" stroke-linejoin="round"><path d="M440 1318L665 985"/><path d="M1010 970H1185"/><path d="M1190 1015L935 1300"/><path d="M1135 830C1170 900 1215 990 1250 1090S1330 1290 1425 1318"/></g><path d="M375 1288H860V1372H430Q390 1350 375 1288Z"/><path d="M730.0 212.0C745.8 213.2 763.0 221.5 775.0 232.0C787.0 242.5 794.2 263.7 802.0 275.0C809.8 286.3 819.8 289.2 822.0 300.0C824.2 310.8 816.5 328.3 815.0 340.0C813.5 351.7 817.2 363.0 813.0 370.0C808.8 377.0 797.5 372.0 790.0 382.0C782.5 392.0 766.3 415.3 768.0 430.0C769.7 444.7 789.7 454.7 800.0 470.0C810.3 485.3 816.7 503.3 830.0 522.0C843.3 540.7 858.3 562.0 880.0 582.0C901.7 602.0 933.3 623.7 960.0 642.0C986.7 660.3 1016.7 679.7 1040.0 692.0C1063.3 704.3 1088.3 716.3 1100.0 716.0C1111.7 715.7 1100.0 690.0 1110.0 690.0C1120.0 690.0 1150.7 704.3 1160.0 716.0C1169.3 727.7 1166.0 746.0 1166.0 760.0C1166.0 774.0 1159.7 788.3 1160.0 800.0C1160.3 811.7 1171.3 821.7 1168.0 830.0C1164.7 838.3 1149.7 850.0 1140.0 850.0C1130.3 850.0 1111.7 844.2 1110.0 830.0C1108.3 815.8 1141.7 773.0 1130.0 765.0C1118.3 757.0 1066.7 780.8 1040.0 782.0C1013.3 783.2 993.3 772.0 970.0 772.0C946.7 772.0 931.7 792.7 900.0 782.0C868.3 771.3 800.0 711.7 780.0 708.0C760.0 704.3 766.7 744.7 780.0 760.0C793.3 775.3 833.3 783.0 860.0 800.0C886.7 817.0 916.7 842.8 940.0 862.0C963.3 881.2 990.0 901.2 1000.0 915.0C1010.0 928.8 1010.0 930.0 1000.0 945.0C990.0 960.0 963.3 987.5 940.0 1005.0C916.7 1022.5 880.0 1034.2 860.0 1050.0C840.0 1065.8 826.7 1083.3 820.0 1100.0C813.3 1116.7 814.2 1132.5 820.0 1150.0C825.8 1167.5 853.3 1194.2 855.0 1205.0C856.7 1215.8 833.3 1203.8 830.0 1215.0C826.7 1226.2 820.0 1259.5 835.0 1272.0C850.0 1284.5 897.5 1278.7 920.0 1290.0C942.5 1301.3 959.2 1323.0 970.0 1340.0C980.8 1357.0 990.0 1380.3 985.0 1392.0C980.0 1403.7 949.2 1402.0 940.0 1410.0C930.8 1418.0 943.3 1430.0 930.0 1440.0C916.7 1450.0 886.7 1469.2 860.0 1470.0C833.3 1470.8 785.0 1458.3 770.0 1445.0C755.0 1431.7 775.0 1400.8 770.0 1390.0C765.0 1379.2 744.2 1400.0 740.0 1380.0C735.8 1360.0 748.3 1303.3 745.0 1270.0C741.7 1236.7 730.8 1218.3 720.0 1180.0C709.2 1141.7 690.8 1076.7 680.0 1040.0C669.2 1003.3 665.0 982.5 655.0 960.0C645.0 937.5 634.2 915.0 620.0 905.0C605.8 895.0 580.0 907.5 570.0 900.0C560.0 892.5 560.0 878.3 560.0 860.0C560.0 841.7 575.0 806.7 570.0 790.0C565.0 773.3 540.8 775.0 530.0 760.0C519.2 745.0 505.0 721.3 505.0 700.0C505.0 678.7 517.5 650.3 530.0 632.0C542.5 613.7 568.3 612.0 580.0 590.0C591.7 568.0 599.2 522.5 600.0 500.0C600.8 477.5 585.0 465.0 585.0 455.0C585.0 445.0 601.7 449.2 600.0 440.0C598.3 430.8 575.0 416.7 575.0 400.0C575.0 383.3 589.2 361.7 600.0 340.0C610.8 318.3 626.7 289.2 640.0 270.0C653.3 250.8 665.0 234.7 680.0 225.0C695.0 215.3 714.2 210.8 730.0 212.0Z"/></g>
<g transform="translate(1080 1850) scale(0.14554)" fill="#1c97d3"><path fill-rule="evenodd" d="M165 530Q165 600 200 635L310 658A155 155 0 0 1 615 690H1278A155 155 0 0 1 1588 690Q1700 685 1765 660Q1778 590 1745 485Q1600 385 1340 362L1300 372L1080 235L1075 222Q820 165 580 215Q470 270 360 335L235 345Q200 400 200 490ZM530 300Q660 240 833 235L843 370L530 362ZM880 235Q1050 245 1235 380L1210 392L910 378Z"/><path fill-rule="evenodd" d="M338 690a122 122 0 1 0 244 0a122 122 0 1 0 -244 0ZM417 690a43 43 0 1 0 86 0a43 43 0 1 0 -86 0Z"/><path fill-rule="evenodd" d="M1310 690a122 122 0 1 0 244 0a122 122 0 1 0 -244 0ZM1389 690a43 43 0 1 0 86 0a43 43 0 1 0 -86 0Z"/></g>
<g transform="translate(1800 1870) scale(0.17671)" fill="#1c97d3"><path fill-rule="evenodd" d="M118 130L130 100L160 134H475L482 122H575L582 134H1330L1337 122H1425L1432 134H1745L1775 200L1790 390L1820 405L1822 460Q1815 495 1780 503H280L120 485L108 460V300L135 285V160ZM170 185H263Q275 185 275 197V313Q275 325 263 325H235L158 285V197Q158 185 170 185ZM312 203H353A9 9 0 0 1 362 212V486A9 9 0 0 1 353 495H312A9 9 0 0 1 303 486V212A9 9 0 0 1 312 203ZM391 203H432A9 9 0 0 1 441 212V486A9 9 0 0 1 432 495H391A9 9 0 0 1 382 486V212A9 9 0 0 1 391 203ZM989 203H1029A9 9 0 0 1 1038 212V486A9 9 0 0 1 1029 495H989A9 9 0 0 1 980 486V212A9 9 0 0 1 989 203ZM1067 203H1109A9 9 0 0 1 1118 212V486A9 9 0 0 1 1109 495H1067A9 9 0 0 1 1058 486V212A9 9 0 0 1 1067 203ZM1592 203H1633A9 9 0 0 1 1642 212V486A9 9 0 0 1 1633 495H1592A9 9 0 0 1 1583 486V212A9 9 0 0 1 1592 203ZM1671 203H1713A9 9 0 0 1 1722 212V486A9 9 0 0 1 1713 495H1671A9 9 0 0 1 1662 486V212A9 9 0 0 1 1671 203ZM480 185H678A12 12 0 0 1 690 197V308A12 12 0 0 1 678 320H480A12 12 0 0 1 468 308V197A12 12 0 0 1 480 185ZM727 185H938A12 12 0 0 1 950 197V355A12 12 0 0 1 938 367H727A12 12 0 0 1 715 355V197A12 12 0 0 1 727 185ZM1157 185H1370A12 12 0 0 1 1382 197V355A12 12 0 0 1 1370 367H1157A12 12 0 0 1 1145 355V197A12 12 0 0 1 1157 185ZM1420 185H1544A12 12 0 0 1 1556 197V355A12 12 0 0 1 1544 367H1420A12 12 0 0 1 1408 355V197A12 12 0 0 1 1420 185Z"/><path d="M1762 208Q1815 212 1817 275" fill="none" stroke="#1c97d3" stroke-width="11" stroke-linecap="round"/><circle cx="605" cy="473" r="89" fill="#e9f0e9"/><path fill-rule="evenodd" d="M525 473a80 80 0 1 0 160 0a80 80 0 1 0 -160 0ZM578 473a27 27 0 1 0 54 0a27 27 0 1 0 -54 0Z"/><circle cx="1438" cy="473" r="89" fill="#e9f0e9"/><path fill-rule="evenodd" d="M1358 473a80 80 0 1 0 160 0a80 80 0 1 0 -160 0ZM1411 473a27 27 0 1 0 54 0a27 27 0 1 0 -54 0Z"/></g>
<g transform="translate(2470 1870) scale(0.25988)" fill="#1c97d3"><path fill-rule="evenodd" d="M80 65L93 50L105 73H118L122 64H150L154 73H170L176 68H225L232 73H333L338 64H368L373 73H392L398 68H445L452 73H592L598 68H620L626 73H665L670 64H700L705 73H805L805 73L810 66L815 73L820 66L825 73L830 66L835 73L840 66L845 73L850 66L855 73L860 66L865 73L870 66L875 73L880 66L885 73L890 66L895 73L900 66L905 73L910 66L915 73L920 66L925 73L930 66L935 73L940 66L945 73L950 66L955 73L960 66H1005L1010 64H1040L1046 73H1065L1070 68H1095L1100 73H1150L1155 64H1188L1193 73H1292L1297 64H1328L1333 73H1355L1360 68H1410L1416 73H1525L1530 64H1560L1565 73H1578L1584 68H1630L1636 73H1650L1655 64H1685L1690 73H1815Q1832 80 1838 110L1830 250L1848 270L1850 320Q1845 340 1800 343H960L960 343L955 350L950 343L945 350L940 343L935 350L930 343L925 350L920 343L915 350L910 343L905 350L900 343L895 350L890 343L885 350L880 343L875 350L870 343L865 350L860 343L855 350L850 343L845 350L840 343L835 350L830 343L825 350L820 343L815 350L810 343L805 350H165L82 320ZM123 120H164A8 8 0 0 1 172 128V200A8 8 0 0 1 164 208H123A8 8 0 0 1 115 200V128A8 8 0 0 1 123 120ZM333 120H434A8 8 0 0 1 442 128V205A8 8 0 0 1 434 213H333A8 8 0 0 1 325 205V128A8 8 0 0 1 333 120ZM708 120H779A8 8 0 0 1 787 128V229A8 8 0 0 1 779 237H708A8 8 0 0 1 700 229V128A8 8 0 0 1 708 120ZM986 120H1112A8 8 0 0 1 1120 128V229A8 8 0 0 1 1112 237H986A8 8 0 0 1 978 229V128A8 8 0 0 1 986 120ZM1148 120H1219A8 8 0 0 1 1227 128V229A8 8 0 0 1 1219 237H1148A8 8 0 0 1 1140 229V128A8 8 0 0 1 1148 120ZM1383 120H1509A8 8 0 0 1 1517 128V229A8 8 0 0 1 1509 237H1383A8 8 0 0 1 1375 229V128A8 8 0 0 1 1383 120ZM1536 120H1662A8 8 0 0 1 1670 128V229A8 8 0 0 1 1662 237H1536A8 8 0 0 1 1528 229V128A8 8 0 0 1 1536 120ZM473 120H540Q546 120 546 126V235L467 210V126Q467 120 473 120ZM199 133H237A7 7 0 0 1 244 140V326A7 7 0 0 1 237 333H199A7 7 0 0 1 192 326V140A7 7 0 0 1 199 133ZM262 133H299A7 7 0 0 1 306 140V326A7 7 0 0 1 299 333H262A7 7 0 0 1 255 326V140A7 7 0 0 1 262 133ZM577 133H615A7 7 0 0 1 622 140V326A7 7 0 0 1 615 333H577A7 7 0 0 1 570 326V140A7 7 0 0 1 577 133ZM639 133H677A7 7 0 0 1 684 140V326A7 7 0 0 1 677 333H639A7 7 0 0 1 632 326V140A7 7 0 0 1 639 133ZM1249 133H1287A7 7 0 0 1 1294 140V326A7 7 0 0 1 1287 333H1249A7 7 0 0 1 1242 326V140A7 7 0 0 1 1249 133ZM1311 133H1349A7 7 0 0 1 1356 140V326A7 7 0 0 1 1349 333H1311A7 7 0 0 1 1304 326V140A7 7 0 0 1 1311 133ZM1700 133H1738A7 7 0 0 1 1745 140V326A7 7 0 0 1 1738 333H1700A7 7 0 0 1 1693 326V140A7 7 0 0 1 1700 133ZM1762 133H1801A7 7 0 0 1 1808 140V326A7 7 0 0 1 1801 333H1762A7 7 0 0 1 1755 326V140A7 7 0 0 1 1762 133Z"/><path d="M1838 122Q1864 130 1864 168" fill="none" stroke="#1c97d3" stroke-width="7" stroke-linecap="round"/><circle cx="402" cy="323" r="61" fill="#e9f0e9"/><path fill-rule="evenodd" d="M347 323a55 55 0 1 0 110 0a55 55 0 1 0 -110 0ZM384 323a18 18 0 1 0 36 0a18 18 0 1 0 -36 0Z"/><circle cx="1058" cy="323" r="61" fill="#e9f0e9"/><path fill-rule="evenodd" d="M1003 323a55 55 0 1 0 110 0a55 55 0 1 0 -110 0ZM1040 323a18 18 0 1 0 36 0a18 18 0 1 0 -36 0Z"/><circle cx="1580" cy="323" r="61" fill="#e9f0e9"/><path fill-rule="evenodd" d="M1525 323a55 55 0 1 0 110 0a55 55 0 1 0 -110 0ZM1562 323a18 18 0 1 0 36 0a18 18 0 1 0 -36 0Z"/></g>
<g transform="translate(900 2955) scale(0.05459)"><defs><clipPath id="lh"><rect x="0" y="0" width="935" height="1900"/></clipPath><clipPath id="rh"><rect x="935" y="0" width="1000" height="1900"/></clipPath><clipPath id="disc"><circle cx="935" cy="945" r="810"/></clipPath></defs><g clip-path="url(#lh)"><g clip-path="url(#disc)"><circle cx="935" cy="945" r="810" fill="#3a9a43"/><path d="M935.0 135.0L783.7 831.1M935.0 135.0L1086.3 831.1M1507.8 372.2L908.6 757.5M1507.8 372.2L1122.5 971.4M1745.0 945.0L1048.9 793.7M1745.0 945.0L1048.9 1096.3M1507.8 1517.8L1122.5 918.6M1507.8 1517.8L908.6 1132.5M935.0 1755.0L1086.3 1058.9M935.0 1755.0L783.7 1058.9M362.2 1517.8L961.4 1132.5M362.2 1517.8L747.5 918.6M125.0 945.0L821.1 1096.3M125.0 945.0L821.1 793.7M362.2 372.2L747.5 971.4M362.2 372.2L961.4 757.5" fill="none" stroke="#e9f0e9" stroke-width="54"/><circle cx="935" cy="945" r="152" fill="none" stroke="#e9f0e9" stroke-width="64"/><circle cx="935" cy="945" r="122" fill="#3a9a43"/><circle cx="858" cy="757" r="17" fill="#3a9a43"/><circle cx="748" cy="868" r="17" fill="#3a9a43"/><circle cx="748" cy="1022" r="17" fill="#3a9a43"/><circle cx="858" cy="1135" r="17" fill="#3a9a43"/></g></g><g clip-path="url(#rh)"><circle cx="935" cy="945" r="784" fill="none" stroke="#3a9a43" stroke-width="52"/><g clip-path="url(#disc)"><path d="M935.0 135.0L783.7 831.1M935.0 135.0L1086.3 831.1M1507.8 372.2L908.6 757.5M1507.8 372.2L1122.5 971.4M1745.0 945.0L1048.9 793.7M1745.0 945.0L1048.9 1096.3M1507.8 1517.8L1122.5 918.6M1507.8 1517.8L908.6 1132.5M935.0 1755.0L1086.3 1058.9M935.0 1755.0L783.7 1058.9M362.2 1517.8L961.4 1132.5M362.2 1517.8L747.5 918.6M125.0 945.0L821.1 1096.3M125.0 945.0L821.1 793.7M362.2 372.2L747.5 971.4M362.2 372.2L961.4 757.5" fill="none" stroke="#3a9a43" stroke-width="54"/></g><circle cx="935" cy="945" r="152" fill="none" stroke="#3a9a43" stroke-width="64"/><circle cx="1015" cy="760" r="13" fill="#e9f0e9"/><circle cx="1125" cy="870" r="13" fill="#e9f0e9"/><circle cx="1125" cy="1030" r="13" fill="#e9f0e9"/><circle cx="1015" cy="1145" r="13" fill="#e9f0e9"/></g></g>
<text x="998.1" y="3019.2" font-family='"Liberation Sans", sans-serif' font-size="73.5" fill="#1d1d1b" font-weight="bold" textLength="132.4" lengthAdjust="spacingAndGlyphs" stroke="#1d1d1b" stroke-width="1.3">ITDP</text>
<text x="998.6" y="3035.3" font-family='"Liberation Serif", serif' font-size="16.5" fill="#1d1d1b" font-style="italic" textLength="150.2" lengthAdjust="spacingAndGlyphs" stroke="#1d1d1b" stroke-width="0.25">Institute for Transportation</text>
<text x="990.4" y="3049.8" font-family='"Liberation Serif", serif' font-size="16.5" fill="#1d1d1b" font-style="italic" textLength="123.0" lengthAdjust="spacingAndGlyphs" stroke="#1d1d1b" stroke-width="0.25">&amp; Development Policy</text>
<text x="1479.4" y="3039.7" font-family='"Liberation Sans", sans-serif' font-size="60" fill="#7ba6d7" font-weight="bold" font-style="italic" textLength="57.6" lengthAdjust="spacingAndGlyphs">de</text>
<text x="1534.9" y="3039.7" font-family='"Liberation Sans", sans-serif' font-size="60" fill="#7f7f82" font-weight="bold" font-style="italic" textLength="152.1" lengthAdjust="spacingAndGlyphs">spacio</text>
<g transform="translate(1460 2910) scale(0.16632)"><g fill="none" stroke="#7ba6d7" stroke-linecap="round" stroke-linejoin="round"><path stroke-width="19" d="M1707 148Q1610 240 1440 262L1450 690Q1640 540 1805 470Q1715 280 1707 148Z"/><path stroke-width="16" d="M1707 148L1450 690M1440 262L1805 470"/><path stroke-width="20" d="M1450 690C1330 800 1270 880 1150 895C1030 905 950 855 850 870C760 885 680 940 600 955C500 975 430 930 350 885C290 855 220 858 172 868"/></g></g>
<g transform="translate(2090 2890) scale(0.12422)"><path d="M135 1095Q800 1102 1600 1090L1585 1200Q800 1235 130 1225Q115 1150 135 1095Z" fill="#8bb9b3"/></g>
<g transform="translate(2120 2895) scale(0.07794)"><g fill="none" stroke="#7a7a7a" stroke-linecap="round" stroke-linejoin="round"><circle cx="378" cy="1515" r="251" stroke-width="15"/><circle cx="1425" cy="1500" r="251" stroke-width="15"/><path stroke-width="20" d="M88 1500Q100 1260 350 1232Q510 1225 605 1340"/><path stroke-width="18" d="M1140 1485Q1160 1250 1415 1215"/><path stroke-width="15" d="M245 1312Q300 1440 378 1515L592 1040M600 1010L745 1500"/><path stroke-width="17" d="M940 1052H1232"/><path stroke-width="26" d="M1228 1150L770 1478"/><path stroke-width="16" d="M1232 965L1262 1185Q1290 1340 1340 1420L1425 1500"/><path stroke-width="16" d="M1140 892Q1200 868 1262 878Q1310 900 1290 935Q1240 950 1160 945"/><path stroke-width="14" d="M1020 990Q1090 975 1140 1000"/></g><path d="M140 1482L616 1548M171 1393L585 1637M234 1323L522 1707M318 1283L438 1747M411 1277L345 1753M500 1308L256 1722M570 1371L186 1659M610 1455L146 1575M1187 1467L1663 1533M1218 1378L1632 1622M1281 1308L1569 1692M1365 1268L1485 1732M1458 1262L1392 1738M1547 1293L1303 1707M1617 1356L1233 1644M1657 1440L1193 1560" stroke="#858585" stroke-width="5" fill="none"/><circle cx="378" cy="1515" r="26" fill="#7a7a7a"/><circle cx="1425" cy="1500" r="26" fill="#7a7a7a"/><ellipse cx="565" cy="985" rx="62" ry="26" fill="#707070"/><circle cx="752" cy="1490" r="46" fill="#6f6f6f"/><path d="M838 1452L882 1428L992 1518L962 1548Z" fill="#0a0a0a"/><path d="M590 935L870 888Q960 920 1005 962Q1062 1060 1040 1200Q1000 1290 960 1330L870 1420L800 1442L705 1560L792 1620L772 1648L568 1512L640 1372L742 1240L802 1160L700 1082Q620 1030 590 935Z" fill="#0b0b0b"/><path d="M610 530Q700 498 830 470Q880 490 902 522L1000 680L1100 830L1132 872L1062 902L950 800L882 722L872 890Q720 940 590 936Q568 750 600 562Z" fill="#878787"/><path d="M1078 882L1140 858L1168 940L1110 962Z" fill="#151515"/><path d="M905 340Q800 345 650 395Q500 415 350 380Q290 350 262 318L200 350Q250 420 330 470Q500 528 640 512Q780 480 900 452Q915 400 905 340Z" fill="#0b0b0b"/><path d="M232 335L262 339L252 400L218 394Z" fill="#8bb9b3"/><path d="M300 362L335 366L325 455L286 449Z" fill="#8bb9b3"/><path d="M405 392L432 396L422 500L391 494Z" fill="#8bb9b3"/><path d="M505 402L535 406L525 520L491 514Z" fill="#8bb9b3"/><path d="M600 398L628 402L618 514L586 508Z" fill="#8bb9b3"/><path d="M700 378L728 382L718 495L686 489Z" fill="#8bb9b3"/><path d="M790 352L815 356L805 470L776 464Z" fill="#8bb9b3"/><path d="M868 342L890 346L880 452L854 446Z" fill="#8bb9b3"/><path d="M200 342L168 272M222 335L212 260M246 328L244 252M268 320L276 244" stroke="#8bb9b3" stroke-width="6" fill="none" stroke-linecap="round"/><path d="M690 140L832 198L802 242L842 282L852 332L700 352L640 332L655 200Z" fill="#0b0b0b"/><path d="M552 212Q600 140 652 118L700 132L662 230L645 335L585 295Z" fill="#555"/><circle cx="716" cy="270" r="15" fill="#e0202a"/></g>
<text x="2118.5" y="3083.8" font-family='"Liberation Sans", sans-serif' font-size="61" fill="#080808" font-weight="bold" font-style="italic" textLength="148.3" lengthAdjust="spacingAndGlyphs" stroke="#080808" stroke-width="0.9">Bicivilízate</text>
<path d="M2196 3086C2190 3100 2191 3118 2200 3124C2210 3130 2220 3118 2224 3100" fill="none" stroke="#080808" stroke-width="2.4" stroke-linecap="round"/>
</g></svg></body></html>
